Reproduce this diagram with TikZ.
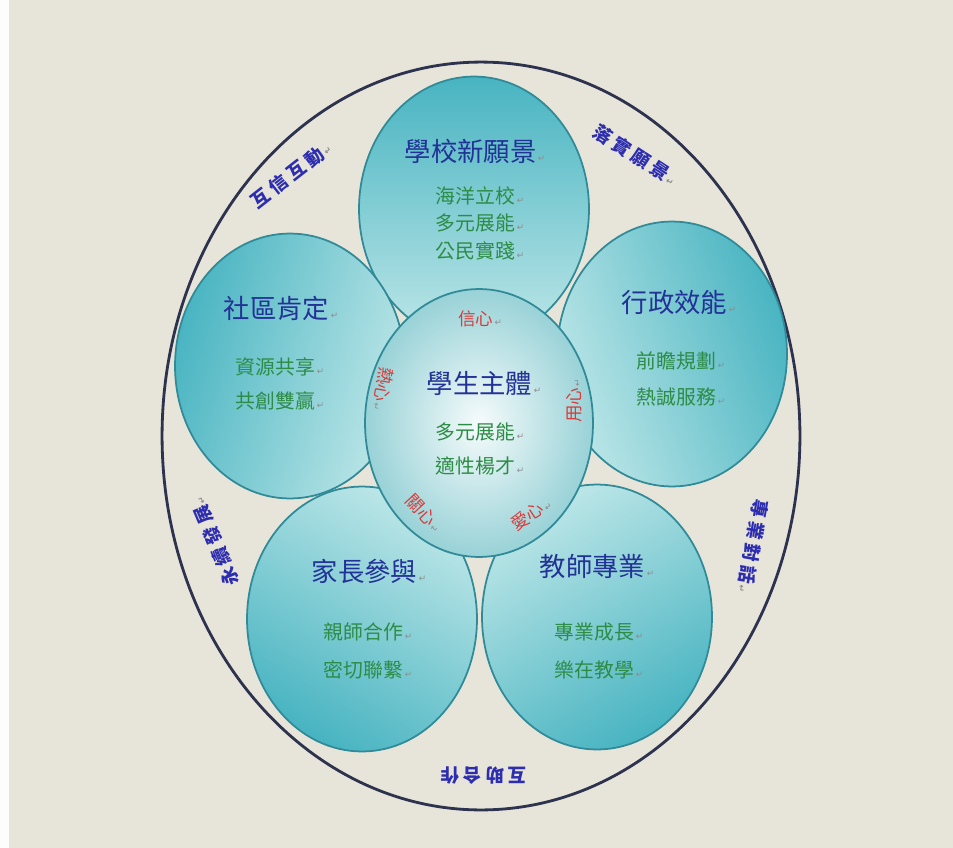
\documentclass[tikz,border=0pt]{standalone}
\usepackage{fontspec}
\setmainfont{Noto Sans CJK TC}
\newfontfamily\spacedfont[LetterSpace=22]{Noto Sans CJK TC}
\newfontfamily\arrowfont{DejaVu Sans}
\usepackage{tikz}
\usepackage{xcolor}
\usetikzlibrary{shapes.geometric}

\definecolor{paper}{RGB}{231,228,217}
\definecolor{rimline}{RGB}{45,50,78}
\definecolor{petaldark}{RGB}{72,180,193}
\definecolor{petallight}{RGB}{190,231,232}
\definecolor{petaledge}{RGB}{48,138,152}
\definecolor{corelight}{RGB}{246,251,251}
\definecolor{coreedge}{RGB}{152,210,215}
\definecolor{titleblue}{RGB}{35,50,150}
\definecolor{subgreen}{RGB}{45,140,70}
\definecolor{heartred}{RGB}{215,60,60}
\definecolor{rimblue}{RGB}{45,45,175}

\newcommand{\parmark}{{\arrowfont\fontsize{5}{5}\selectfont\color{black!45}\,↵}}

\begin{document}
\begin{tikzpicture}[x=0.02cm, y=-0.02cm,
    petal/.style={ellipse, draw=petaledge, line width=1pt, minimum width=4.6cm, minimum height=5.3cm, inner sep=0pt, top color=petaldark, bottom color=petallight},
    hub/.style={ellipse, draw=petaledge, line width=1pt, minimum width=4.56cm, minimum height=5.36cm, inner sep=0pt, inner color=corelight, outer color=coreedge},
    circtitle/.style={text=titleblue, font=\fontsize{15}{15}\selectfont},
    motto/.style={text=subgreen, font=\fontsize{11.3}{11.3}\selectfont},
    heartword/.style={text=heartred, font=\fontsize{10}{10}\selectfont},
    rimword/.style={text=rimblue, inner sep=1pt, font=\spacedfont\bfseries\fontsize{10.5}{10.5}\selectfont}]
        \fill[paper] (0,0) rectangle (953,848);
        \fill[white!92!paper] (0,0) rectangle (9,848);
        \useasboundingbox (0,0) rectangle (953,848);
        \node[ellipse, draw=rimline, line width=1.6pt, minimum width=12.76cm, minimum height=14.96cm, inner sep=0pt] (rim) at (481,436) {};

        \node[petal] (vision) at (474,209) {};
        \node[petal, shading angle=73] (community) at (290,366) {};
        \node[petal, shading angle=-70] (admin) at (672,354) {};
        \node[petal, shading angle=149] (parents) at (362,619) {};
        \node[petal, shading angle=-149] (teachers) at (597,617) {};
        \node[hub] (student) at (479,423) {};

        \node[circtitle] (visiont) at (475,151) {學校新願景\parmark};
        \node[motto] (vision1) at (480,196) {海洋立校\parmark};
        \node[motto] (vision2) at (480,223) {多元展能\parmark};
        \node[motto] (vision3) at (480,251) {公民實踐\parmark};

        \node[circtitle] (communityt) at (281,308) {社區肯定\parmark};
        \node[motto] (community1) at (280,367) {資源共享\parmark};
        \node[motto] (community2) at (280,401) {共創雙贏\parmark};

        \node[circtitle] (admint) at (679,303) {行政效能\parmark};
        \node[motto] (admin1) at (681,361) {前瞻規劃\parmark};
        \node[motto] (admin2) at (681,397) {熱誠服務\parmark};

        \node[circtitle] (studentt) at (484,384) {學生主體\parmark};
        \node[motto] (student1) at (480,432) {多元展能\parmark};
        \node[motto] (student2) at (480,466) {適性楊才\parmark};

        \node[circtitle] (parentst) at (369,571) {家長參與\parmark};
        \node[motto] (parents1) at (368,632) {親師合作\parmark};
        \node[motto] (parents2) at (368,670) {密切聯繫\parmark};

        \node[circtitle] (teacherst) at (597,567) {教師專業\parmark};
        \node[motto] (teachers1) at (599,632) {專業成長\parmark};
        \node[motto] (teachers2) at (599,670) {樂在教學\parmark};

        \node[heartword] (faith) at (480,319) {信心\parmark};
        \node[heartword, rotate=-100] (zeal) at (383,389) {熱心\parmark};
        \node[heartword, rotate=90] (effort) at (574,401) {用心\parmark};
        \node[heartword, rotate=-47] (care) at (424,513) {關心\parmark};
        \node[heartword, rotate=33] (love) at (531,514) {愛心\parmark};

        \node[rimword, rotate=38] (trust) at (291,175) {互信互動\parmark};
        \node[rimword, rotate=-33] (realize) at (635,155) {落實願景\parmark};
        \node[rimword, rotate=-100] (dialogue) at (753,546) {專業對話\parmark};
        \node[rimword, rotate=180] (mutual) at (484,776) {互助合作};
        \node[rimword, rotate=113] (lasting) at (215,542) {永續發展\parmark};
\end{tikzpicture}
\end{document}
